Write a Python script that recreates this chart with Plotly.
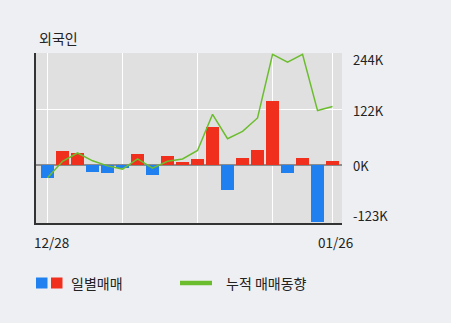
import plotly.graph_objects as go

# Data (thousands of shares)
idx = list(range(20))
daily = [-27, 31, 27.5, -13.5, -17, -5.5, 25, -21.7, 19.5, 6.5, 14.5, 82.5, -54, 16.5, 32.5, 139, -17, 16.5, -122, 10]
cumulative = [-27, 9, 27, 10, -1, -8, 14, -6, 9, 14, 32.5, 111, 58, 74, 103, 241, 224, 241, 119, 128]
x_labels = ["12/28", "01/26"]
x_label_pos = [0, 19]
y_ticks = [244, 122, 0, -123]
y_tick_labels = ["244K", "122K", "0K", "-123K"]

RED = "#f0301c"
BLUE = "#2180ef"
GREEN = "#6cbd2e"
PAPER = "#eeeff3"
PLOT = "#e0e0e0"
FONT = "Noto Sans CJK KR, Noto Sans, sans-serif"

W, H = 451, 323
L, R, T, B = 36, 342, 53, 223

def px(xp):
    return (xp - L) / (R - L)

def py(yp):
    return (B - yp) / (B - T)

fig = go.Figure()
fig.add_trace(go.Bar(
    x=idx, y=[v * 1000 for v in daily],
    marker=dict(color=[RED if v >= 0 else BLUE for v in daily], line=dict(width=0)),
    width=0.87, showlegend=False, hoverinfo="skip"))
fig.add_trace(go.Scatter(
    x=idx, y=[v * 1000 for v in cumulative], mode="lines",
    line=dict(color=GREEN, width=1.5), showlegend=False, hoverinfo="skip"))

ymin, ymax = -125000, 244000
fig.update_layout(
    width=W, height=H,
    margin=dict(l=L, r=W - R, t=T, b=H - B, pad=0),
    paper_bgcolor=PAPER, plot_bgcolor=PLOT,
    font=dict(family=FONT, size=12, color="#222"),
    bargap=0,
    xaxis=dict(range=[-0.77, 19.63], tickvals=[0, 5, 10, 15, 19], showticklabels=False,
               showgrid=True, gridcolor="white", gridwidth=1, zeroline=False,
               showline=True, linecolor="#333", linewidth=2, ticks=""),
    yaxis=dict(range=[ymin, ymax], tickvals=[122000, 244000], showticklabels=False,
               showgrid=True, gridcolor="white", gridwidth=1,
               zeroline=True, zerolinecolor="#8c8c8c", zerolinewidth=2,
               showline=True, linecolor="#333", linewidth=2, ticks=""),
)

ann = []
# title
ann.append(dict(x=px(37), y=py(38), xref="paper", yref="paper", text="외국인", showarrow=False,
                xanchor="left", yanchor="middle", font=dict(size=14, color="#222", family=FONT)))
# y tick labels on right
label_y = {244: 59, 122: 110, 0: 165.5, -123: 215}
for v, t in zip(y_ticks, y_tick_labels):
    ann.append(dict(x=px(351), y=py(label_y[v]), xref="paper", yref="paper", text=t, showarrow=False,
                    xanchor="left", yanchor="middle", font=dict(size=13, color="#222", family=FONT)))
# x labels
for i, t, cx in zip(x_label_pos, x_labels, [51, 335.5]):
    ann.append(dict(x=px(cx), y=py(242), xref="paper", yref="paper", text=t, showarrow=False,
                    xanchor="center", yanchor="middle", font=dict(size=13.5, color="#222", family=FONT)))
# legend texts
ann.append(dict(x=px(69), y=py(283), xref="paper", yref="paper", text="일별매매", showarrow=False,
                xanchor="left", yanchor="middle", font=dict(size=14, color="#222", family=FONT)))
ann.append(dict(x=px(224), y=py(283), xref="paper", yref="paper", text="누적 매매동향", showarrow=False,
                xanchor="left", yanchor="middle", font=dict(size=14, color="#222", family=FONT)))
fig.update_layout(annotations=ann)

shapes = [
    dict(type="rect", xref="paper", yref="paper", x0=px(36), x1=px(47.5), y0=py(288.5), y1=py(277.5),
         fillcolor=BLUE, line=dict(width=0)),
    dict(type="rect", xref="paper", yref="paper", x0=px(51), x1=px(62.5), y0=py(288.5), y1=py(277.5),
         fillcolor=RED, line=dict(width=0)),
    dict(type="line", xref="paper", yref="paper", x0=px(180), x1=px(212), y0=py(283), y1=py(283),
         line=dict(color=GREEN, width=4.5)),
]
fig.update_layout(shapes=shapes)

fig.write_html("out.html")
